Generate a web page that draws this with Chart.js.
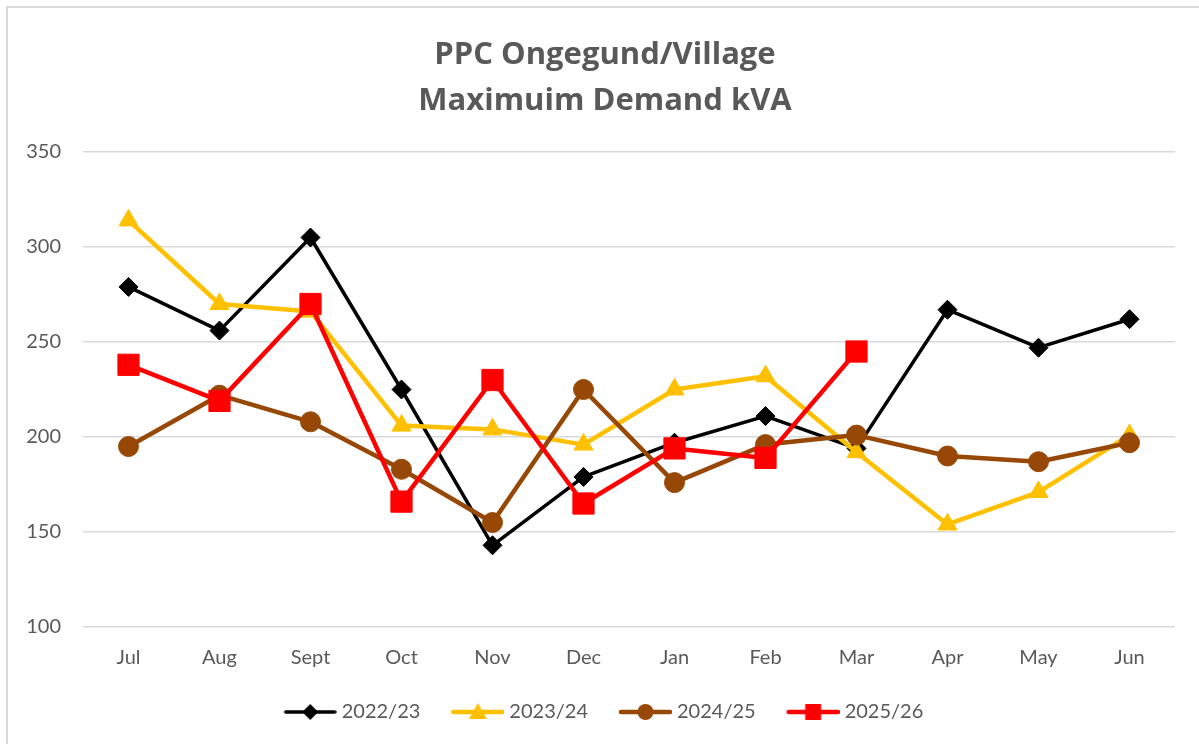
<!DOCTYPE html>
<html>
<head>
<meta charset="utf-8">
<script src="https://cdn.jsdelivr.net/npm/chart.js"></script>
<style>
body{margin:0;background:#fff;overflow:hidden}
#frame{position:absolute;left:6px;top:6px;width:1300px;height:900px;border:2px solid #d9d9d9}
#wrap{position:absolute;left:0;top:0;width:1199px;height:744px}
</style>
</head>
<body>
<div id="frame"></div>
<div id="wrap"><canvas id="demandChart" width="1199" height="744"></canvas></div>
<script>
// months of the financial year, Jul -> Jun
const months = ['Jul','Aug','Sept','Oct','Nov','Dec','Jan','Feb','Mar','Apr','May','Jun']

// max demand kVA per year
const fy2223 = [279,256,305,225,143,179,197,211,194,267,247,262]
const fy2324 = [314,270,266,206,204,196,225,232,192,154,171,201]
const fy2425 = [195,222,208,183,155,225,176,196,201,190,187,197]
const fy2526 = [238,219,270,166,230,165,194,189,245]

const yTicks = [100,150,200,250,300,350]

const txtColor = '#595959'
Chart.defaults.font.family = 'Lato'

// little line + marker pictures for the legend
function legendIcon(color, shape, lineW){
    const c = document.createElement('canvas')
    c.width = 79
    c.height = 24
    const g = c.getContext('2d')
    g.strokeStyle = color
    g.fillStyle = color
    g.lineWidth = lineW
    g.lineCap = 'round'
    g.beginPath()
    g.moveTo(28, 12)
    g.lineTo(77, 12)
    g.stroke()
    const cx = 52.5, cy = 12
    g.beginPath()
    if(shape == 'rectRot'){
        g.moveTo(cx, cy-8); g.lineTo(cx+8, cy); g.lineTo(cx, cy+8); g.lineTo(cx-8, cy); g.closePath()
    } else if(shape == 'triangle'){
        g.moveTo(cx, cy-9); g.lineTo(cx+9, cy+7); g.lineTo(cx-9, cy+7); g.closePath()
    } else if(shape == 'circle'){
        g.arc(cx, cy, 8, 0, Math.PI*2)
    } else {
        g.rect(cx-8, cy-8, 16, 16)
    }
    g.fill()
    return c
}

const datasets = [
    {label:'2022/23', data:fy2223, borderColor:'#000000', backgroundColor:'#000000', borderWidth:3.5,
     pointStyle:'rectRot', pointRadius:9.5, pointHoverRadius:9.5, pointBorderWidth:1, order:3},
    {label:'2023/24', data:fy2324, borderColor:'#ffc000', backgroundColor:'#ffc000', borderWidth:4.5,
     pointStyle:'triangle', pointRadius:11, pointHoverRadius:11, pointBorderWidth:1, order:2},
    {label:'2024/25', data:fy2425, borderColor:'#974806', backgroundColor:'#974806', borderWidth:4.5,
     pointStyle:'circle', pointRadius:10, pointHoverRadius:10, pointBorderWidth:1, order:1},
    {label:'2025/26', data:fy2526, borderColor:'#ff0000', backgroundColor:'#ff0000', borderWidth:4.5,
     pointStyle:'rect', pointRadius:15, pointHoverRadius:15, pointBorderWidth:1, order:0}
]
datasets.forEach(d => { d.borderCapStyle = 'round'; d.borderJoinStyle = 'round'; d.tension = 0 })

const icons = [
    legendIcon('#000000','rectRot',3.5),
    legendIcon('#ffc000','triangle',4.5),
    legendIcon('#974806','circle',4.5),
    legendIcon('#ff0000','rect',4.5)
]

// nudge the title a bit right, like the excel chart
const titleShift = {
    id: 'titleShift',
    afterLayout(chart){
        chart.titleBlock.left += 12
        chart.titleBlock.right += 12
    }
}

let ctx = document.getElementById('demandChart').getContext('2d')
let myChart = new Chart(ctx, {
    type: 'line',
    data: {labels: months, datasets: datasets},
    plugins: [titleShift],
    options: {
        responsive: false,
        animation: false,
        layout: {padding: {left: 11, right: 24, top: 0, bottom: 12}},
        scales: {
            x: {
                offset: true,
                grid: {display: false, drawTicks: false},
                border: {display: false},
                ticks: {color: txtColor, font: {size: 20}, padding: 19, maxRotation: 0, autoSkip: false},
                afterFit(s){ s.height = 65 }
            },
            y: {
                min: 100,
                max: 350,
                afterBuildTicks(s){ s.ticks = yTicks.map(v => ({value: v})) },
                ticks: {color: txtColor, font: {size: 20}, padding: 22},
                grid: {color: '#d9d9d9', lineWidth: 1.5, drawTicks: false},
                border: {display: false},
                afterFit(s){ s.width = 72 }
            }
        },
        plugins: {
            title: {
                display: true,
                text: ['PPC Ongegund/Village', 'Maximuim Demand kVA'],
                color: txtColor,
                font: {family: 'Open Sans', size: 31, weight: 'bold', lineHeight: 1.484},
                padding: {top: 32, bottom: 28}
            },
            legend: {
                position: 'bottom',
                labels: {
                    usePointStyle: true,
                    pointStyleWidth: 69,
                    boxHeight: 20,
                    padding: 10,
                    color: txtColor,
                    font: {size: 20},
                    generateLabels(chart){
                        return chart.data.datasets.map((ds, i) => ({
                            text: ds.label,
                            pointStyle: icons[i],
                            fillStyle: ds.borderColor,
                            strokeStyle: ds.borderColor,
                            lineWidth: 0,
                            hidden: false,
                            datasetIndex: i,
                            fontColor: txtColor
                        }))
                    }
                }
            },
            tooltip: {enabled: false}
        }
    }
})
</script>
</body>
</html>
